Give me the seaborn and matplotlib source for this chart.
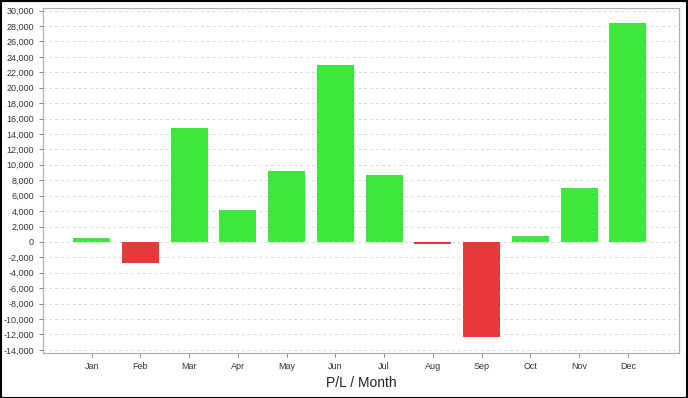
import matplotlib
matplotlib.use("Agg")
import matplotlib.pyplot as plt
import matplotlib.ticker as mticker
from matplotlib.patches import Rectangle
import seaborn as sns
import pandas as pd

months = ["Jan", "Feb", "Mar", "Apr", "May", "Jun", "Jul", "Aug", "Sep", "Oct", "Nov", "Dec"]
pl_values = [500, -2750, 14750, 4150, 9200, 23000, 8650, -300, -12300, 800, 6950, 28400]
y_ticks = list(range(-14000, 30001, 2000))

df = pd.DataFrame({"month": months, "pl": pl_values})
df["sign"] = ["pos" if v >= 0 else "neg" for v in df["pl"]]

sns.set_style("white")
plt.rcParams["font.family"] = ["Liberation Sans", "DejaVu Sans"]

fig = plt.figure(figsize=(6.88, 3.98), dpi=100)
ax = fig.add_axes([43 / 688, 1 - 353 / 398, (679 - 43) / 688, (353 - 8) / 398])

sns.barplot(data=df, x="month", y="pl", hue="sign",
            palette={"pos": "#3de83d", "neg": "#e8393d"},
            dodge=False, width=0.76, legend=False, ax=ax, saturation=1,
            edgecolor="none", linewidth=0)

ax.set_xlim(-1.0, 12.05)
ax.set_ylim(-14400, 30330)
ax.set_yticks(y_ticks)
ax.yaxis.set_major_formatter(mticker.FuncFormatter(lambda v, p: f"{int(v):,}"))
ax.grid(axis="y", color="#d8d8d8", linestyle=(0, (3, 3)), linewidth=0.7)
ax.set_axisbelow(True)
for s in ax.spines.values():
    s.set_color("#b0b0b0")
    s.set_linewidth(0.9)
ax.tick_params(axis="both", which="both", labelsize=6.5, length=3, width=0.7,
               direction="out", left=True, bottom=True,
               colors="#888888", labelcolor="#333333")
ax.set_ylabel("")
ax.set_xlabel("")
fig.text(361 / 688, 1 - 383 / 398, "P/L / Month", fontsize=10, color="#222222",
         ha="center", va="center")

fig.patches.append(Rectangle((0.5 / 688, 0.5 / 398), 686.5 / 688, 396.5 / 398,
                             transform=fig.transFigure, fill=False,
                             edgecolor="black", linewidth=1.5))

fig.savefig("out.png", dpi=100)
